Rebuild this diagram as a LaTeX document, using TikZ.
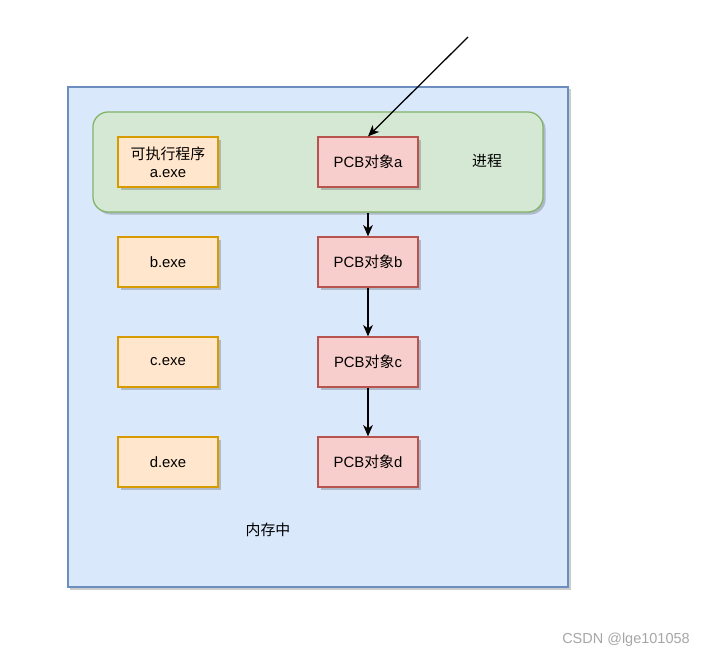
\documentclass[tikz,border=0pt]{standalone}
\usepackage{fontspec}
\setmainfont{Liberation Sans}
\newfontfamily\cjk{Noto Sans CJK SC}
\usepackage{xcolor}
\usetikzlibrary{arrows.meta,positioning,calc,shadows}

\definecolor{memfill}{HTML}{DAE8FC}
\definecolor{memline}{HTML}{6C8EBF}
\definecolor{procfill}{HTML}{D5E8D4}
\definecolor{procline}{HTML}{82B366}
\definecolor{exefill}{HTML}{FFE6CC}
\definecolor{exeline}{HTML}{D79B00}
\definecolor{pcbfill}{HTML}{F8CECC}
\definecolor{pcbline}{HTML}{B85450}

\begin{document}
\begin{tikzpicture}[x=0.025cm, y=-0.025cm, font=\fontsize{10.6}{13}\selectfont,
  shade/.style={drop shadow={shadow xshift=1.8pt, shadow yshift=-1.8pt, opacity=0.2, fill=black}},
  exebox/.style={draw=exeline, fill=exefill, line width=0.9pt, minimum width=2.5cm, minimum height=1.25cm, align=center, shade},
  pcbbox/.style={draw=pcbline, fill=pcbfill, line width=0.9pt, minimum width=2.5cm, minimum height=1.25cm, shade},
  link/.style={-{Stealth[length=2.8mm, width=2.4mm, inset=0.8mm]}, line width=0.9pt}]
\useasboundingbox (0,0) rectangle (706,657);
% memory and the process container
\node[draw=memline, fill=memfill, line width=0.9pt, minimum width=12.5cm, minimum height=12.5cm, shade] (mem) at (318,337) {};
\node[draw=procline, fill=procfill, line width=0.9pt, rounded corners=0.38cm, minimum width=11.25cm, minimum height=2.5cm, shade] (proc) at (318,162) {};
% executables
\node[exebox] (exea) at (168,162) {{\cjk 可执行程序}\\a.exe};
\node[exebox] (exeb) at (168,262) {b.exe};
\node[exebox] (exec) at (168,362) {c.exe};
\node[exebox] (exed) at (168,462) {d.exe};
% pcb chain
\node[pcbbox] (pcba) at (368,162) {PCB{\cjk 对象}a};
\node[pcbbox] (pcbb) at (368,262) {PCB{\cjk 对象}b};
\node[pcbbox] (pcbc) at (368,362) {PCB{\cjk 对象}c};
\node[pcbbox] (pcbd) at (368,462) {PCB{\cjk 对象}d};
\node (proclabel) at (487,161) {\cjk 进程};
\node (memlabel) at (268,530) {\cjk 内存中};
% links
\coordinate (entry) at (468,37);
\draw[link] (entry) -- (pcba.north);
\draw[link] (pcba |- proc.south) -- (pcbb.north);
\draw[link] (pcbb) -- (pcbc);
\draw[link] (pcbc) -- (pcbd);
% watermark
\node[gray!70, font=\fontsize{10.3}{12}\selectfont] (mark) at (626,640) {CSDN @lge101058};
\end{tikzpicture}
\end{document}
